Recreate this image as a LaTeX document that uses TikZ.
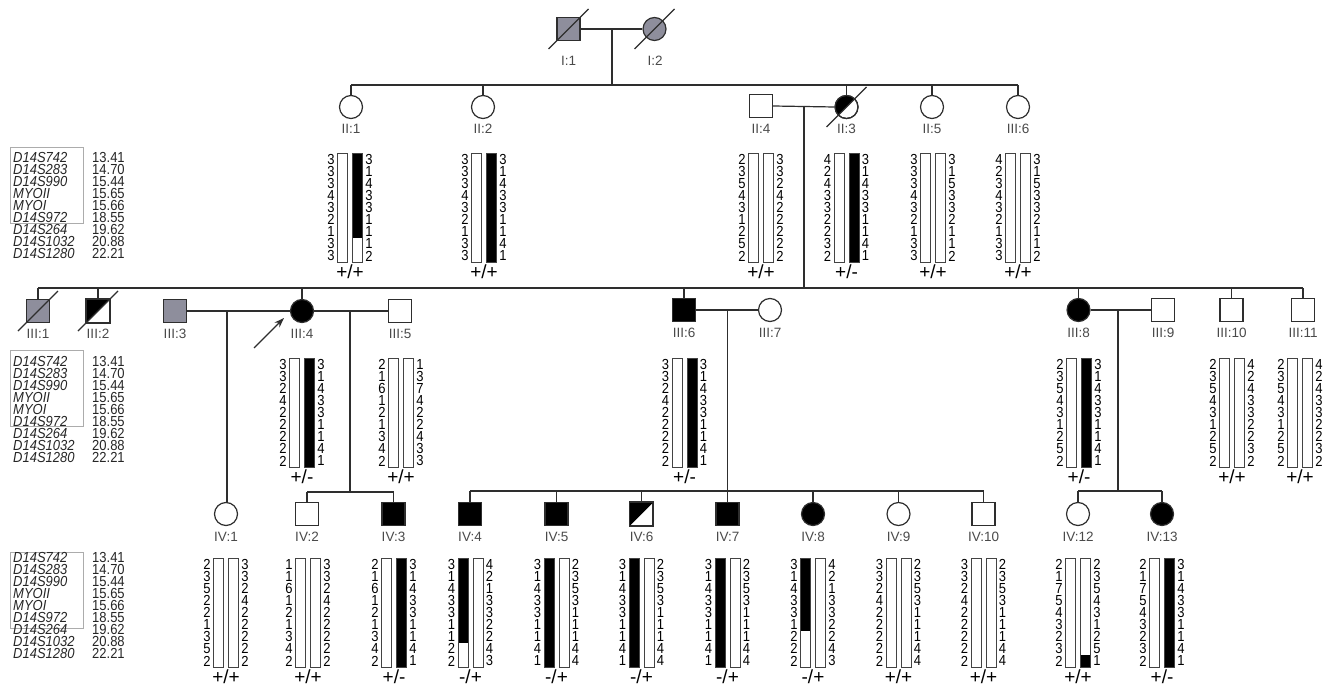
\documentclass[tikz,border=0pt]{standalone}
\usepackage{fontspec}
\setmainfont{Liberation Sans}
\usetikzlibrary{arrows.meta}
\definecolor{lc}{HTML}{2E2E2E}
\definecolor{gf}{HTML}{8E8E9C}
\definecolor{lab}{HTML}{4A4A4A}
\tikzset{
  ped/.style={draw=lc, line width=1.2pt, inner sep=0pt, minimum size=23pt},
  male/.style={ped, rectangle, fill=white},
  female/.style={ped, circle, fill=white},
  aff/.style={fill=black},
  grey/.style={fill=gf},
  lbl/.style={text=lab, font=\fontsize{13.5}{13.5}\selectfont, inner sep=0pt},
  link/.style={draw=lc, line width=1.2pt},
  num/.style={font=\fontsize{13}{12}\selectfont, inner sep=0pt, text=black},
  bar/.style={draw=lc!90, line width=0.9pt},
  geno/.style={font=\fontsize{19}{19}\selectfont, inner sep=0pt, text=black},
  legbox/.style={draw=gray!65, line width=0.9pt},
  legtxt/.style={font=\fontsize{13}{12}\selectfont\itshape, inner sep=0pt, anchor=west, text=black!85},
  legnum/.style={font=\fontsize{13}{12}\selectfont, inner sep=0pt, anchor=west, text=black!85},
}
\newcommand{\tallt}[1]{\scalebox{1}[1.12]{#1}}
% #1 name, #2 centre x, #3 top y, #4 left alleles, #5 right alleles, #6 left black a/b, #7 right black a/b, #8 genotype
\newcommand{\haplo}[8]{%
  \foreach \v [count=\i] in {#4}{\node[num] (#1l\i) at ({#2-19},{#3+6.05+12.11*(\i-1)}) {\tallt{\v}};}
  \foreach \v [count=\i] in {#5}{\node[num] (#1r\i) at ({#2+19},{#3+6.05+12.11*(\i-1)}) {\tallt{\v}};}
  \foreach \a/\b in {#6}{\fill[black] ({#2-12.5},{#3+12.11*\a}) rectangle ({#2-2.5},{#3+12.11*\b});}
  \foreach \a/\b in {#7}{\fill[black] ({#2+2.5},{#3+12.11*\a}) rectangle ({#2+12.5},{#3+12.11*\b});}
  \draw[bar] ({#2-12.5},#3) rectangle ({#2-2.5},{#3+109});
  \draw[bar] ({#2+2.5},#3) rectangle ({#2+12.5},{#3+109});
  \node[geno] (#1g) at (#2,{#3+119}) {#8};
}
% #1 name, #2 first row y, #3 box top
\newcommand{\mkleg}[3]{%
  \draw[legbox] (10,#3) rectangle (83,{#3+76});
  \foreach \m/\d [count=\i] in {D14S742/13.41,D14S283/14.70,D14S990/15.44,MYOII/15.65,MYOI/15.66,D14S972/18.55,D14S264/19.62,D14S1032/20.88,D14S1280/22.21}{
    \node[legtxt] (#1m\i) at (13,{#2+12.11*(\i-1)}) {\tallt{\m}};
    \node[legnum] (#1d\i) at (92,{#2+12.11*(\i-1)}) {\tallt{\d}};}
}
\newcommand{\dslash}[1]{\draw[link] ([shift={(-20,20)}]#1.center) -- ([shift={(20,-20)}]#1.center);}
\newcommand{\halfsq}[1]{\fill[black] (#1.north west) -- (#1.north east) -- (#1.south west) -- cycle; \draw[link] (#1.north west) rectangle (#1.south east);}

\begin{document}
\begin{tikzpicture}[x=1pt,y=-1pt]
\useasboundingbox (0,0) rectangle (1335,687);
\fill[white] (0,0) rectangle (1335,687);

% ---------- Generation I ----------
\node[male,grey] (I1) at (568.5,29) {};
\node[female,grey] (I2) at (654.5,29) {};
\dslash{I1}\dslash{I2}
\node[lbl] (I1t) at (568.5,61) {I:1};
\node[lbl] (I2t) at (655,61) {I:2};
\draw[link] (I1.east) -- (I2.west);
\coordinate (m1) at (612,29);
\coordinate (s2) at (612,85);
\draw[link] (m1) -- (s2);

% ---------- Generation II ----------
\node[female] (II1) at (351,107) {};
\node[female] (II2) at (483,107) {};
\node[male] (II4) at (761,106) {};
\node[female] (II3) at (846.5,107) {};
\node[female] (II5) at (932,107) {};
\node[female] (II6) at (1018,107) {};
\begin{scope}
  \clip (II3.center) circle[radius=11.5pt];
  \fill[black] ([shift={(-20,20)}]II3.center) -- ([shift={(20,-20)}]II3.center) -- ([shift={(-20,-20)}]II3.center) -- cycle;
\end{scope}
\draw[link] (II3.center) circle[radius=11.5pt];
\dslash{II3}
\coordinate (s2l) at (351,85);
\coordinate (s2r) at (1018,85);
\draw[link] (s2l) -- (s2r);
\foreach \p in {II1,II2,II3,II5,II6}{\draw[link] (\p.north) -- (\p.north |- s2);}
\draw[link] (II4.east) -- (II3.west);
\coordinate (m2) at (804,106);
\coordinate (s3) at (804,288);
\draw[link] (m2) -- (s3);
\node[lbl] (II1t) at (351,129) {II:1};
\node[lbl] (II2t) at (483,129) {II:2};
\node[lbl] (II4t) at (761,129) {II:4};
\node[lbl] (II3t) at (846.5,129) {II:3};
\node[lbl] (II5t) at (932,129) {II:5};
\node[lbl] (II6t) at (1018,129) {III:6};

\mkleg{L2}{157}{147}
\haplo{hII1}{350}{153}{3,3,3,4,3,2,1,3,3}{3,1,4,3,3,1,1,1,2}{0/0}{0/7}{+/+}
\haplo{hII2}{484}{153}{3,3,3,4,3,2,1,3,3}{3,1,4,3,3,1,1,4,1}{0/0}{0/9}{+/+}
\haplo{hII4}{761}{153}{2,3,5,4,3,1,2,5,2}{3,3,2,4,2,2,2,2,2}{0/0}{0/0}{+/+}
\haplo{hII3}{846.5}{153}{4,2,4,3,3,2,2,3,2}{3,1,4,3,3,1,1,4,1}{0/0}{0/9}{+/-}
\haplo{hII5}{933}{153}{3,3,3,4,3,2,1,3,3}{3,1,5,3,3,2,1,1,2}{0/0}{0/0}{+/+}
\haplo{hII6}{1018}{153}{4,2,3,4,3,2,1,3,3}{3,1,5,3,3,2,1,1,2}{0/0}{0/0}{+/+}

% ---------- Generation III ----------
\node[male,grey] (III1) at (38,311) {};
\node[male] (III2) at (98,311) {};
\halfsq{III2}
\node[male,grey] (III3) at (175,311) {};
\node[female,aff] (III4) at (302,311) {};
\node[male] (III5) at (400,311) {};
\node[male,aff] (III6) at (684,310) {};
\node[female] (III7) at (770,310) {};
\node[female,aff] (III8) at (1078.5,310) {};
\node[male] (III9) at (1163,310) {};
\node[male] (III10) at (1231.5,310) {};
\node[male] (III11) at (1303,310) {};
\dslash{III1}\dslash{III2}
\coordinate (s3l) at (38,288);
\coordinate (s3r) at (1303,288);
\draw[link] (s3l) -- (s3r);
\foreach \p in {III1,III2,III4,III6,III8,III10,III11}{\draw[link] (\p.north) -- (\p.north |- s3);}
\draw[link] (III3.east) -- (III4.west);
\draw[link] (III4.east) -- (III5.west);
\draw[link] (III6.east) -- (III7.west);
\draw[link] (III8.east) -- (III9.west);
\coordinate (arrt) at (254,348);
\draw[draw=lc, line width=1.2pt, -{Stealth[length=10pt,width=7pt]}] (arrt) -- ([shift={(-18,7)}]III4.center);
\node[lbl] (III1t) at (38,334) {III:1};
\node[lbl] (III2t) at (98,334) {III:2};
\node[lbl] (III3t) at (175,334) {III:3};
\node[lbl] (III4t) at (302,334) {III:4};
\node[lbl] (III5t) at (400,334) {III:5};
\node[lbl] (III6t) at (684,333) {III:6};
\node[lbl] (III7t) at (770,333) {III:7};
\node[lbl] (III8t) at (1078.5,333) {III:8};
\node[lbl] (III9t) at (1163,333) {III:9};
\node[lbl] (III10t) at (1231.5,333) {III:10};
\node[lbl] (III11t) at (1303,333) {III:11};

\mkleg{L3}{361}{350}
\haplo{hIII4}{302}{358}{3,3,2,4,2,2,2,2,2}{3,1,4,3,3,1,1,4,1}{0/0}{0/9}{+/-}
\haplo{hIII5}{401}{358}{2,1,6,1,2,1,3,4,2}{1,3,7,4,2,2,4,3,3}{0/0}{0/0}{+/+}
\haplo{hIII6}{684.5}{358}{3,3,2,4,2,2,2,2,2}{3,1,4,3,3,1,1,4,1}{0/0}{0/9}{+/-}
\haplo{hIII8}{1079}{358}{2,3,5,4,3,1,2,5,2}{3,1,4,3,3,1,1,4,1}{0/0}{0/9}{+/-}
\haplo{hIII10}{1232}{358}{2,3,5,4,3,1,2,5,2}{4,2,4,3,3,2,2,3,2}{0/0}{0/0}{+/+}
\haplo{hIII11}{1300}{358}{2,3,5,4,3,1,2,5,2}{4,2,4,3,3,2,2,3,2}{0/0}{0/0}{+/+}

% ---------- Generation IV ----------
\node[female] (IV1) at (226,514) {};
\node[male] (IV2) at (307,514) {};
\node[male,aff] (IV3) at (393.5,514) {};
\node[male,aff] (IV4) at (470,514) {};
\node[male,aff] (IV5) at (556.5,514) {};
\node[male] (IV6) at (641.5,514) {};
\halfsq{IV6}
\node[male,aff] (IV7) at (727.5,514) {};
\node[female,aff] (IV8) at (813,514) {};
\node[female] (IV9) at (898.5,514) {};
\node[male] (IV10) at (983.5,514) {};
\node[female] (IV12) at (1078,514) {};
\node[female,aff] (IV13) at (1162,514) {};

\coordinate (d1) at (227,312);
\draw[link] (d1) -- (d1 |- IV1.north);
\coordinate (d2) at (350,312);
\coordinate (s4a) at (350,492);
\draw[link] (d2) -- (s4a);
\draw[link] (IV2.north |- s4a) -- (IV3.north |- s4a);
\draw[link] (IV2.north) -- (IV2.north |- s4a);
\draw[link] (IV3.north) -- (IV3.north |- s4a);
\coordinate (d3) at (727.5,310);
\coordinate (s4b) at (727.5,491);
\draw[link] (d3) -- (s4b);
\draw[link] (IV4.north |- s4b) -- (IV10.north |- s4b);
\foreach \p in {IV4,IV5,IV6,IV7,IV8,IV9,IV10}{\draw[link] (\p.north) -- (\p.north |- s4b);}
\coordinate (d4) at (1118,310);
\coordinate (s4c) at (1118,491);
\draw[link] (d4) -- (s4c);
\draw[link] (IV12.north |- s4c) -- (IV13.north |- s4c);
\draw[link] (IV12.north) -- (IV12.north |- s4c);
\draw[link] (IV13.north) -- (IV13.north |- s4c);

\node[lbl] (IV1t) at (226,537) {IV:1};
\node[lbl] (IV2t) at (307,537) {IV:2};
\node[lbl] (IV3t) at (393.5,537) {IV:3};
\node[lbl] (IV4t) at (470,537) {IV:4};
\node[lbl] (IV5t) at (556.5,537) {IV:5};
\node[lbl] (IV6t) at (641.5,537) {IV:6};
\node[lbl] (IV7t) at (727.5,537) {IV:7};
\node[lbl] (IV8t) at (813,537) {IV:8};
\node[lbl] (IV9t) at (898.5,537) {IV:9};
\node[lbl] (IV10t) at (983.5,537) {IV:10};
\node[lbl] (IV12t) at (1078,537) {IV:12};
\node[lbl] (IV13t) at (1162,537) {IV:13};

\mkleg{L4}{557}{552}
\haplo{hIV1}{226}{558}{2,3,5,2,2,1,3,5,2}{3,3,2,4,2,2,2,2,2}{0/0}{0/0}{+/+}
\haplo{hIV2}{308}{558}{1,1,6,1,2,1,3,4,2}{3,3,2,4,2,2,2,2,2}{0/0}{0/0}{+/+}
\haplo{hIV3}{394}{558}{2,1,6,1,2,1,3,4,2}{3,1,4,3,3,1,1,4,1}{0/0}{0/9}{+/-}
\haplo{hIV4}{470.5}{558}{3,1,4,3,3,1,1,2,2}{4,2,1,3,3,2,2,4,3}{0/7}{0/0}{-/+}
\haplo{hIV5}{556.5}{558}{3,1,4,3,3,1,1,4,1}{2,3,5,3,1,1,1,4,4}{0/9}{0/0}{-/+}
\haplo{hIV6}{641.5}{558}{3,1,4,3,3,1,1,4,1}{2,3,5,3,1,1,1,4,4}{0/9}{0/0}{-/+}
\haplo{hIV7}{727.5}{558}{3,1,4,3,3,1,1,4,1}{2,3,5,3,1,1,1,4,4}{0/9}{0/0}{-/+}
\haplo{hIV8}{813}{558}{3,1,4,3,3,1,2,2,2}{4,2,1,3,3,2,2,4,3}{0/6}{0/0}{-/+}
\haplo{hIV9}{898.5}{558}{3,3,2,4,2,2,2,2,2}{2,3,5,3,1,1,1,4,4}{0/0}{0/0}{+/+}
\haplo{hIV10}{983.5}{558}{3,3,2,4,2,2,2,2,2}{2,3,5,3,1,1,1,4,4}{0/0}{0/0}{+/+}
\haplo{hIV12}{1078}{558}{2,1,7,5,4,3,2,3,2}{2,3,5,4,3,1,2,5,1}{0/0}{8/9}{+/+}
\haplo{hIV13}{1162}{558}{2,1,7,5,4,3,2,3,2}{3,1,4,3,3,1,1,4,1}{0/0}{0/9}{+/-}
\end{tikzpicture}
\end{document}
